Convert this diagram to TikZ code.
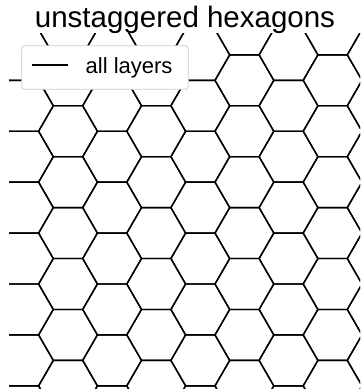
\documentclass[tikz,border=0pt]{standalone}
\usepackage{fontspec}
\setmainfont{Liberation Sans}
\begin{document}
\begin{tikzpicture}[x=1pt,y=-1pt,
  hexline/.style={line width=1.4pt,black,line join=miter},
  legbox/.style={draw=black!20,line width=0.8pt,fill=white,rounded corners=3pt},
  titletext/.style={font=\fontsize{29.5}{30}\selectfont,anchor=base},
  legtext/.style={font=\fontsize{22}{24}\selectfont,anchor=base west,inner sep=0pt}]
\useasboundingbox (0,0) rectangle (360,389);
\begin{scope}
  \clip (9.3,33) rectangle (360,389);
  \foreach \i in {-2,...,8}{
    \foreach \j in {-6,...,3}{
      \pgfmathsetmacro{\cx}{68+44.1*\i}
      \pgfmathsetmacro{\cy}{284+50.92*\j-25.46*mod(abs(\i),2)}
      \draw[hexline] (\cx+29.4,\cy) -- (\cx+14.7,\cy-25.46) -- (\cx-14.7,\cy-25.46)
        -- (\cx-29.4,\cy) -- (\cx-14.7,\cy+25.46) -- (\cx+14.7,\cy+25.46) -- cycle;
    }
  }
\end{scope}
\node[titletext] (title) at (185,27.5) {unstaggered hexagons};
\draw[legbox] (21.7,45.7) rectangle (188.3,89.3);
\coordinate (la) at (31.7,65);
\coordinate (lb) at (67.7,65);
\draw[hexline] (la) -- (lb);
\node[legtext] (leg) at (85.5,73.3) {all layers};
\end{tikzpicture}
\end{document}
